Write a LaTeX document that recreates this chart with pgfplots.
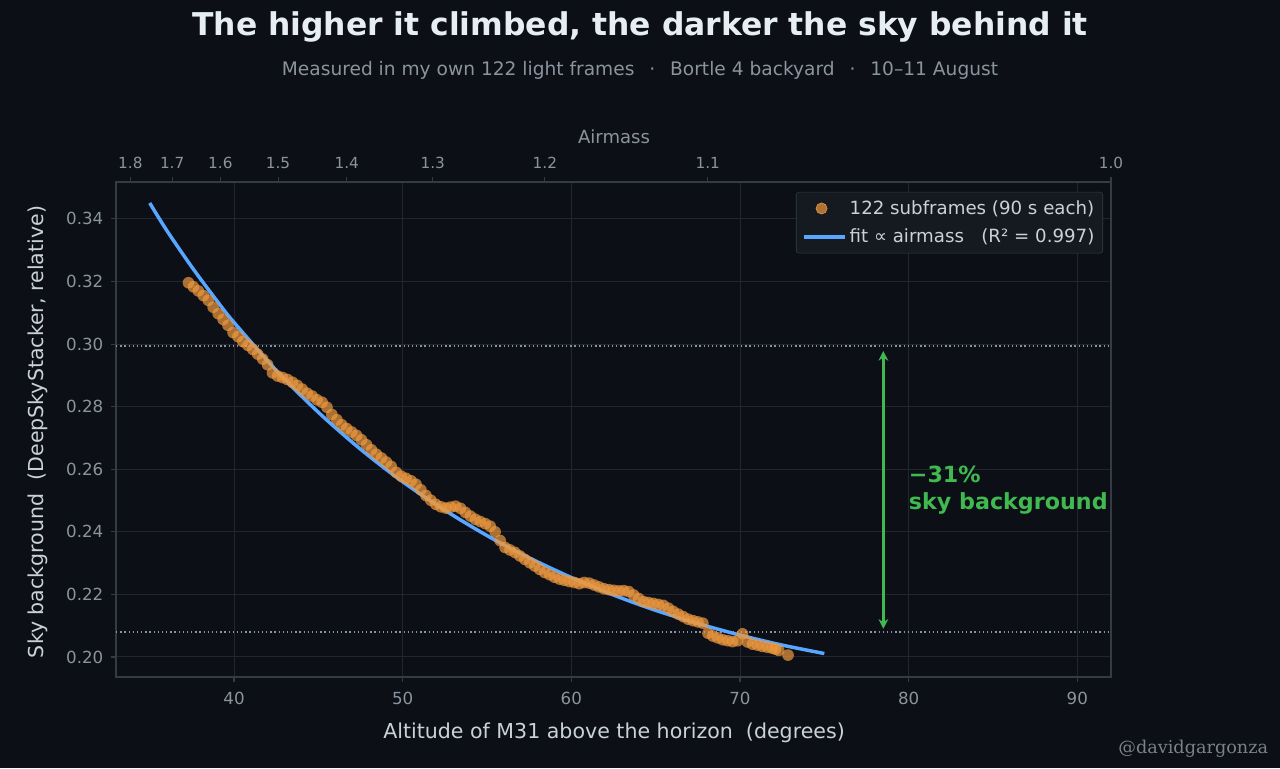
\documentclass[border=0pt]{standalone}
\usepackage{pgfplots}
\pgfplotsset{compat=1.18}
\usepackage{fontspec}
\setmainfont{DejaVu Sans}
\newfontfamily\wmfont{DejaVu Serif}
\usetikzlibrary{arrows.meta}
\definecolor{bg}{HTML}{0C0F16}
\definecolor{gridc}{HTML}{22272F}
\definecolor{framec}{HTML}{353B45}
\definecolor{tickc}{HTML}{8B949E}
\definecolor{labc}{HTML}{C9D1D9}
\definecolor{titlec}{HTML}{E6EDF3}
\definecolor{dotc}{HTML}{EE9A40}
\definecolor{linec}{HTML}{58A6FF}
\definecolor{greenc}{HTML}{3FB950}
\definecolor{legbg}{HTML}{151A21}
\definecolor{wmc}{HTML}{7A818B}

\pgfplotstableread{
x y
37.30 0.3196
37.59 0.3183
37.88 0.3170
38.18 0.3155
38.47 0.3140
38.76 0.3118
39.06 0.3097
39.35 0.3079
39.64 0.3060
39.94 0.3037
40.23 0.3024
40.52 0.3008
40.82 0.2996
41.11 0.2983
41.40 0.2968
41.70 0.2952
41.99 0.2934
42.28 0.2908
42.58 0.2898
42.87 0.2893
43.16 0.2887
43.46 0.2878
43.75 0.2868
44.04 0.2856
44.34 0.2843
44.63 0.2834
44.92 0.2822
45.22 0.2814
45.51 0.2798
45.80 0.2775
46.10 0.2758
46.39 0.2742
46.68 0.2730
46.98 0.2719
47.27 0.2708
47.56 0.2694
47.86 0.2678
48.15 0.2662
48.44 0.2648
48.74 0.2636
49.03 0.2623
49.32 0.2609
49.62 0.2590
49.91 0.2578
50.20 0.2571
50.50 0.2563
50.79 0.2552
51.08 0.2534
51.38 0.2516
51.67 0.2501
51.96 0.2488
52.26 0.2480
52.55 0.2476
52.84 0.2479
53.14 0.2482
53.43 0.2475
53.72 0.2462
54.02 0.2450
54.31 0.2440
54.60 0.2433
54.90 0.2426
55.19 0.2418
55.48 0.2400
55.78 0.2372
56.07 0.2350
56.36 0.2342
56.66 0.2334
56.95 0.2323
57.24 0.2312
57.54 0.2301
57.83 0.2291
58.12 0.2280
58.42 0.2270
58.71 0.2263
59.00 0.2255
59.30 0.2249
59.59 0.2245
59.88 0.2241
60.18 0.2238
60.47 0.2234
60.76 0.2238
61.06 0.2236
61.35 0.2230
61.64 0.2224
61.94 0.2218
62.23 0.2215
62.52 0.2213
62.82 0.2211
63.11 0.2212
63.40 0.2209
63.70 0.2198
63.99 0.2187
64.28 0.2177
64.58 0.2174
64.87 0.2171
65.16 0.2168
65.46 0.2165
65.75 0.2156
66.04 0.2146
66.34 0.2137
66.63 0.2129
66.92 0.2121
67.22 0.2116
67.51 0.2112
67.80 0.2108
68.10 0.2076
68.39 0.2067
68.68 0.2061
68.98 0.2055
69.27 0.2052
69.56 0.2049
69.86 0.2052
70.15 0.2074
70.44 0.2048
70.74 0.2041
71.03 0.2038
71.32 0.2034
71.62 0.2031
71.91 0.2028
72.10 0.2025
72.30 0.2021
72.85 0.2006
}\frames

\pgfplotstableread{
x y
35.0 0.3451
36.0 0.3364
37.5 0.3246
39.0 0.3137
40.0 0.3069
42.5 0.2916
45.0 0.2782
47.5 0.2664
50.0 0.2560
52.5 0.2469
55.0 0.2388
57.5 0.2317
60.0 0.2254
62.5 0.2198
65.0 0.2149
67.5 0.2107
70.0 0.2070
72.5 0.2038
75.0 0.2011
}\fit

\begin{document}
\begin{tikzpicture}
\begin{scope}[x=0.72pt,y=0.72pt]
\useasboundingbox (0,0) rectangle (1280,768);
\fill[bg] (0,0) rectangle (1280,768);
\node[font=\fontsize{22.6}{26}\selectfont\bfseries, text=titlec] at (640,741) {The higher it climbed, the darker the sky behind it};
\node[font=\fontsize{13.4}{16}\selectfont, text=tickc] at (640,698) {Measured in my own 122 light frames\hspace{0.8em}·\hspace{0.8em}Bortle 4 backyard\hspace{0.8em}·\hspace{0.8em}10–11 August};
\node[font=\fontsize{13}{15}\selectfont, text=tickc] at (614,631) {Airmass};
\node[font=\fontsize{14.8}{17}\selectfont, text=labc] at (614,35) {Altitude of M31 above the horizon\ \ (degrees)};
\node[font=\fontsize{14.8}{17}\selectfont, text=labc, rotate=90] at (38,336) {Sky background\ \ (DeepSkyStacker, relative)};
\node[font=\wmfont\fontsize{12.7}{15}\selectfont, text=wmc, anchor=east] at (1273,19) {@davidgargonza};
\end{scope}

% top airmass axis
\begin{axis}[
  at={(83.52pt,65.52pt)}, anchor=south west,
  scale only axis, width=716.4pt, height=356.4pt,
  xmin=33, xmax=92, ymin=0, ymax=1,
  axis x line*=top, axis y line=none,
  axis line style={framec, line width=0.8pt},
  xtick={33.85,36.33,39.19,42.61,46.68,51.78,58.43,68.09,92.0},
  xticklabels={1.8,1.7,1.6,1.5,1.4,1.3,1.2,1.1,1.0},
  tick align=outside, major tick length=3.6pt,
  tick style={framec, line width=0.8pt},
  xticklabel style={font=\fontsize{11}{13}\selectfont, text=tickc, yshift=2.5pt},
]
\addplot[draw=none] coordinates {(50,0.5)};
\end{axis}

\begin{axis}[
  at={(83.52pt,65.52pt)}, anchor=south west,
  scale only axis, width=716.4pt, height=356.4pt,
  xmin=33, xmax=92, ymin=0.1936, ymax=0.3518,
  clip=false,
  axis line style={framec, line width=0.8pt},
  tick pos=left, tick align=outside, major tick length=3.6pt,
  tick style={framec, line width=0.8pt},
  xtick={40,50,60,70,80,90},
  ytick={0.20,0.22,0.24,0.26,0.28,0.30,0.32,0.34},
  grid=major, major grid style={gridc, line width=0.7pt},
  /pgf/number format/assume math mode=true,
  xticklabel style={font=\fontsize{12}{14}\selectfont, text=tickc, yshift=-3.5pt},
  yticklabel style={font=\fontsize{12}{14}\selectfont, text=tickc, xshift=-2pt, /pgf/number format/.cd, fixed, fixed zerofill, precision=2},
  legend cell align=left,
  legend style={at={(rel axis cs:0.992,0.98)}, anchor=north east,
    fill=legbg, draw=framec, rounded corners=2pt, text=labc,
    font=\fontsize{13.1}{15}\selectfont, row sep=5pt, inner xsep=4pt, inner ysep=4pt},
]
\addplot[forget plot, tickc, line width=0.8pt, dash pattern=on 1pt off 2pt] coordinates {(33,0.2994) (92,0.2994)};
\addplot[forget plot, tickc, line width=0.8pt, dash pattern=on 1pt off 2pt] coordinates {(33,0.2080) (92,0.2080)};
\addplot[only marks, mark=*, mark size=4.2pt, mark options={draw opacity=0, fill=dotc, fill opacity=0.7},
  legend image code/.code={\fill[dotc, fill opacity=0.7] (13pt,0pt) circle (4pt);}]
  table[x=x,y=y] {\frames};
\addlegendentry{122 subframes (90 s each)}
\addplot[linec, line width=2.5pt, smooth,
  legend image code/.code={\draw[linec, line width=2.5pt] (0pt,0pt) -- (30pt,0pt);}]
  table[x=x,y=y] {\fit};
\addlegendentry{fit ∝ airmass\ \ \ (R² = 0.997)}
\draw[greenc, line width=2pt, {Stealth[length=7pt,width=7pt]}-{Stealth[length=7pt,width=7pt]}] (axis cs:78.5,0.2978) -- (axis cs:78.5,0.2090);
\node[anchor=west, align=left, font=\fontsize{16}{19.4}\selectfont\bfseries, text=greenc, inner sep=0pt] at (axis cs:80.0,0.2533) {−31\%\\sky background};
\end{axis}
\end{tikzpicture}
\end{document}
